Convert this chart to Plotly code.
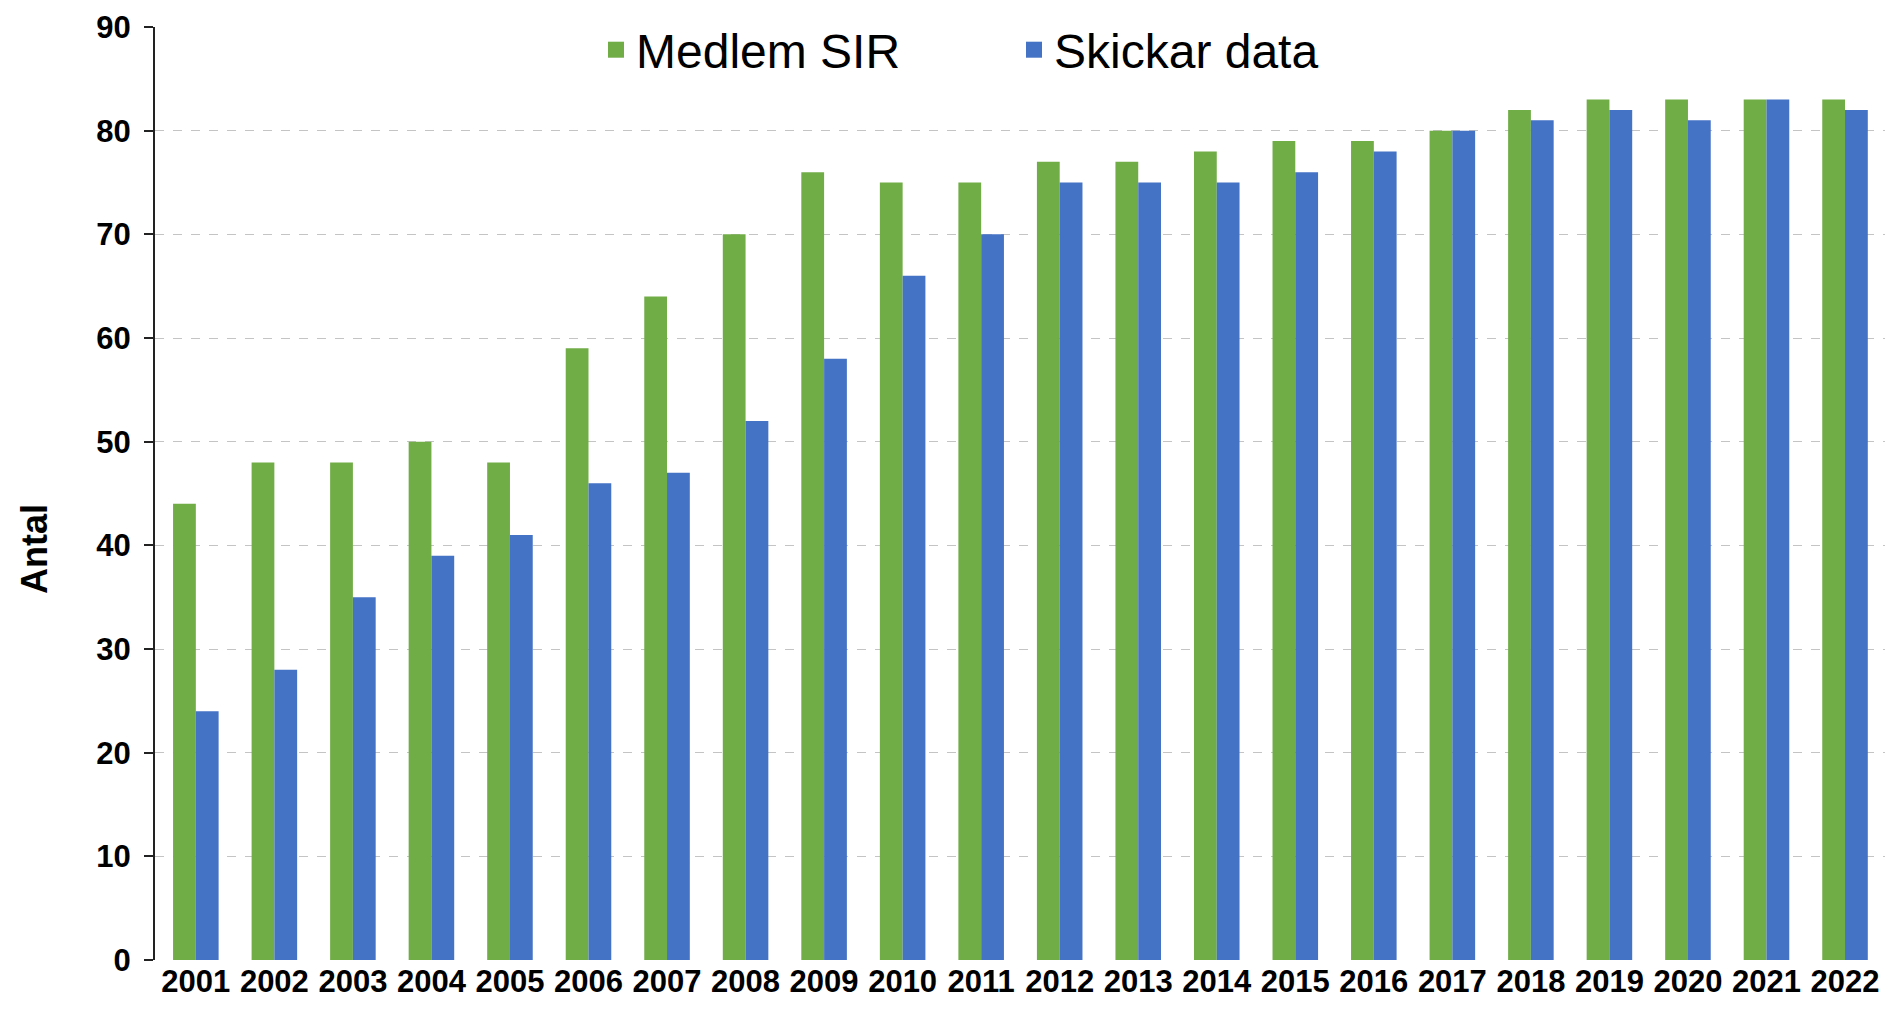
import plotly.graph_objects as go

years = [str(y) for y in range(2001, 2023)]
medlem = [44, 48, 48, 50, 48, 59, 64, 70, 76, 75, 75, 77, 77, 78, 79, 79, 80, 82, 83, 83, 83, 83]
skickar = [24, 28, 35, 39, 41, 46, 47, 52, 58, 66, 70, 75, 75, 75, 76, 78, 80, 81, 82, 81, 83, 82]
series_names = ["Medlem SIR", "Skickar data"]
colors = ["#70AD47", "#4472C4"]
y_ticks = list(range(0, 91, 10))

FONT = "Liberation Sans, Arial, sans-serif"
L, R, T, B = 147, 12, 19, 61
PW, PH = 1893 - L - R, 1013 - T - B

fig = go.Figure()
for name, vals, col in zip(series_names, [medlem, skickar], colors):
    fig.add_trace(go.Bar(x=years, y=vals, name=name, marker_color=col,
                         marker_line_width=0, showlegend=False))
    fig.add_trace(go.Scatter(x=[None], y=[None], mode="markers", name=name,
                             marker=dict(symbol="square", size=22, color=col)))

fig.update_layout(
    width=1893, height=1013,
    margin=dict(l=L, r=R, t=T, b=B, autoexpand=False),
    paper_bgcolor="white", plot_bgcolor="white",
    barmode="group", bargap=0.42, bargroupgap=0,
    font=dict(family=FONT, color="#000"),
    legend=dict(orientation="h", x=(588 - L) / PW, y=1 - (42 - T) / PH,
                xanchor="left", yanchor="middle",
                font=dict(size=48, family=FONT), bgcolor="rgba(0,0,0,0)",
                itemwidth=30, entrywidth=373, tracegroupgap=0),
    annotations=[dict(text="<b>Antal</b>", xref="paper", yref="paper",
                      x=(26 - L) / PW, y=1 - (541 - T) / PH,
                      xanchor="center", yanchor="middle",
                      showarrow=False, textangle=-90, font=dict(size=36, family=FONT))],
)

fig.update_xaxes(type="category", tickangle=0, showgrid=False, showline=False,
                 ticks="", tickfont=dict(size=31, family=FONT, weight="bold"),
                 range=[-0.52, 21.56])
fig.update_yaxes(range=[0, 90], tickvals=y_ticks, showgrid=True, gridcolor="#c4c4c4",
                 griddash="dash", gridwidth=1.3, zeroline=False, showline=True,
                 linecolor="#222", linewidth=2, ticks="outside", ticklen=9,
                 tickcolor="#222", tickwidth=2, ticklabelstandoff=7,
                 ticklabeloverflow="allow",
                 tickfont=dict(size=31, family=FONT, weight="bold"))

fig.write_html("out.html")
